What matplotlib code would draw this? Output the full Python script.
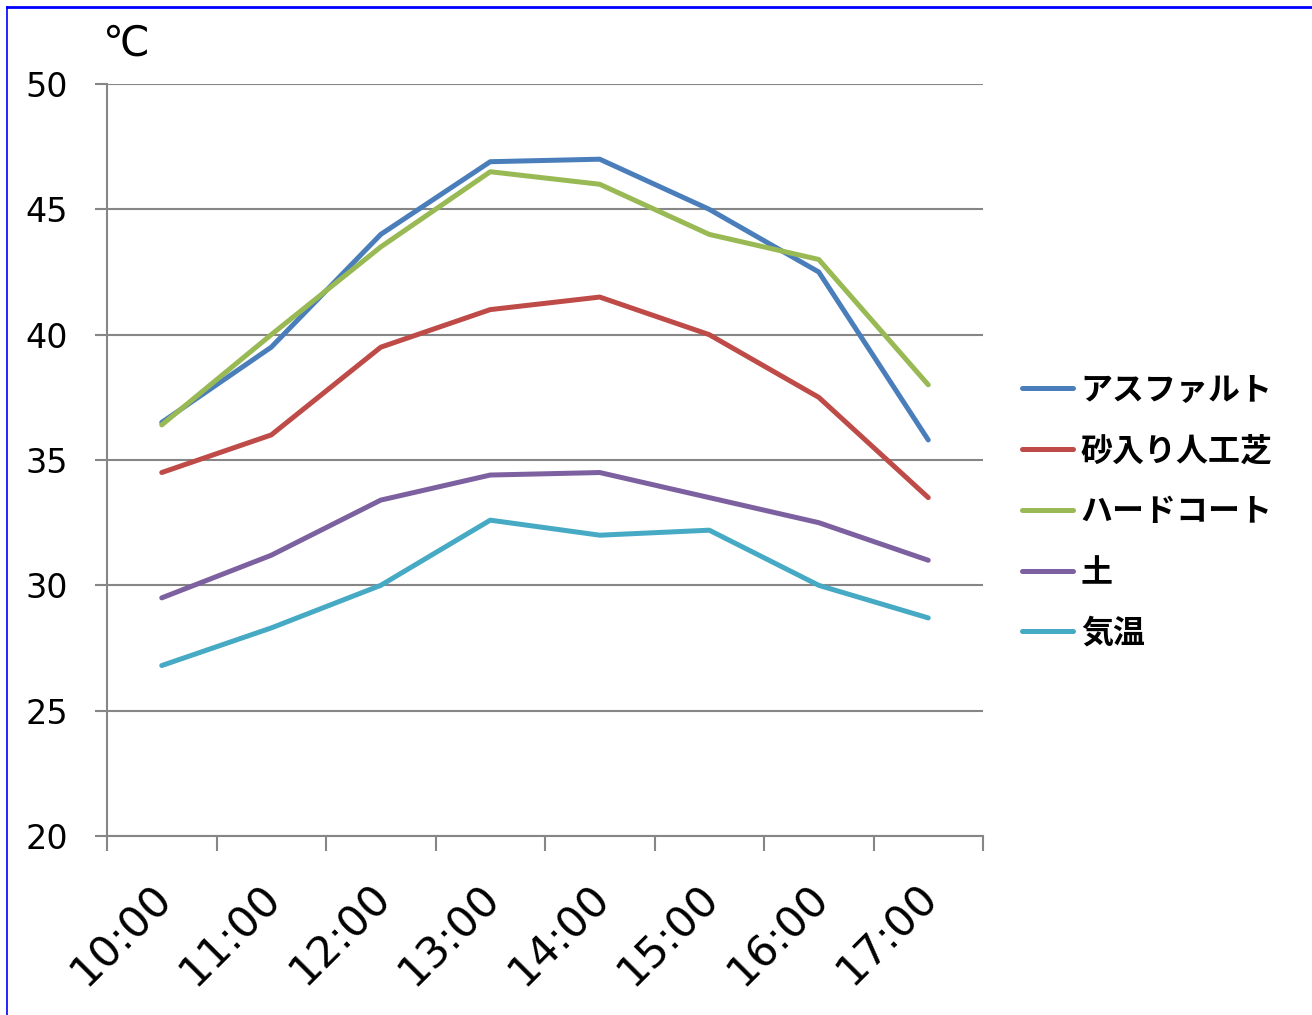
import numpy as np
import matplotlib
matplotlib.use("Agg")
import matplotlib.pyplot as plt
from matplotlib.lines import Line2D
from matplotlib.transforms import ScaledTranslation

# 時刻ごとの表面温度 (℃)
times = ["10:00", "11:00", "12:00", "13:00", "14:00", "15:00", "16:00", "17:00"]
asphalt = [36.5, 39.5, 44.0, 46.9, 47.0, 45.0, 42.5, 35.8]
turf = [34.5, 36.0, 39.5, 41.0, 41.5, 40.0, 37.5, 33.5]
hardcourt = [36.4, 40.0, 43.5, 46.5, 46.0, 44.0, 43.0, 38.0]
soil = [29.5, 31.2, 33.4, 34.4, 34.5, 33.5, 32.5, 31.0]
air = [26.8, 28.3, 30.0, 32.6, 32.0, 32.2, 30.0, 28.7]

labels = ["アスファルト", "砂入り人工芝", "ハードコート", "土", "気温"]
colors = ["#4A7EBB", "#BE4B48", "#98B954", "#7D60A0", "#46AAC5"]
series = [asphalt, turf, hardcourt, soil, air]

fig = plt.figure(figsize=(13.12, 10.15), dpi=100)
ax = fig.add_axes([107/1312, 1-836/1015, (983-107)/1312, (836-84)/1015])

x = np.arange(len(times))
for vals, lab, c in zip(series, labels, colors):
    ax.plot(x, vals, color=c, lw=3.6, label=lab, solid_capstyle="round", solid_joinstyle="round")

grid_c = "#868686"
ax.set_ylim(20, 50)
ax.set_yticks(np.arange(20, 51, 5))
ax.set_xlim(-0.5, len(times) - 0.5)
ax.yaxis.grid(True, color=grid_c, lw=1.5)
ax.set_axisbelow(True)
for s in ["top", "right"]:
    ax.spines[s].set_visible(False)
for s in ["left", "bottom"]:
    ax.spines[s].set_color(grid_c)
    ax.spines[s].set_linewidth(1.5)

ax.tick_params(axis="y", length=9, width=1.5, color=grid_c, labelsize=24, pad=19)
ax.set_xticks(x)
ax.set_xticks(np.arange(-0.5, len(times)), minor=True)
ax.tick_params(axis="x", which="minor", length=11, width=1.5, color=grid_c)
ax.tick_params(axis="x", which="major", length=0, pad=29)
ax.set_xticklabels(times, rotation=45, ha="right", va="top",
                   rotation_mode="anchor", fontsize=31)
for t in ax.get_xticklabels():
    t.set_transform(t.get_transform() + ScaledTranslation(-12/100, 0, fig.dpi_scale_trans))

fig.text(103/1312, 1-44/1015, "℃", fontsize=30, va="center", ha="left",
         family=["DejaVu Sans", "Noto Sans CJK JP"])

fig.legend(loc="center left", bbox_to_anchor=(1009/1312, 1-512/1015), frameon=False,
           prop={"family": "Noto Sans CJK JP", "weight": "bold", "size": 23},
           handlelength=1.6, handletextpad=0.25, labelspacing=0.9, borderaxespad=0)

# 外枠 (左と上)
fig.add_artist(Line2D([7/1312, 7/1312], [0, 1-7/1015], color="blue", lw=1.2,
                      transform=fig.transFigure))
fig.add_artist(Line2D([7/1312, 1], [1-7/1015, 1-7/1015], color="blue", lw=2,
                      transform=fig.transFigure))

fig.savefig("out.png", dpi=100)
